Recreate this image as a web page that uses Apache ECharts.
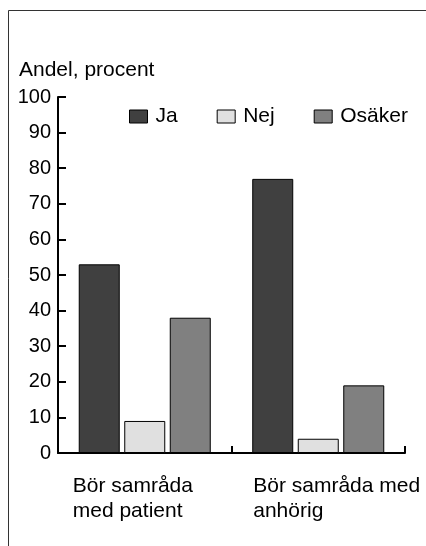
<!DOCTYPE html>
<html>
<head>
<meta charset="UTF-8">
<title></title>
<script src="https://cdn.jsdelivr.net/npm/echarts@6/dist/echarts.min.js"></script>
<style>
  html, body { margin: 0; padding: 0; background: #fff; }
  #main { width: 426px; height: 546px; }
</style>
</head>
<body>
<div id="main"></div>
<script>
  // data
  var categories = ['Bör samråda\nmed patient', 'Bör samråda med\nanhörig'];
  var seriesNames = ['Ja', 'Nej', 'Osäker'];
  var ja = [53, 77];
  var nej = [9, 4];
  var osaker = [38, 19];
  var yTicks = [0, 10, 20, 30, 40, 50, 60, 70, 80, 90, 100];

  var colors = ['#404040', '#e0e0e0', '#808080'];
  var font = 'Liberation Sans, Arial, sans-serif';

  var chart = echarts.init(document.getElementById('main'));

  function bar(name, data, color) {
    return {
      name: name,
      type: 'bar',
      data: data,
      barWidth: 41,
      barGap: '11%',
      itemStyle: { color: color, borderColor: '#000', borderWidth: 1 }
    };
  }

  var option = {
    animation: false,
    backgroundColor: '#fff',
    textStyle: { fontFamily: font, color: '#000' },
    title: {
      text: 'Andel, procent',
      left: 14,
      top: 55,
      textStyle: { fontFamily: font, fontSize: 21, fontWeight: 'normal', color: '#000' }
    },
    graphic: [{
      type: 'rect',
      shape: { x: 8.5, y: 10.5, width: 600, height: 700 },
      style: { fill: 'none', stroke: '#333', lineWidth: 1 },
      silent: true
    }],
    legend: {
      data: seriesNames,
      left: 129,
      top: 106,
      padding: 0,
      itemWidth: 18,
      itemHeight: 13,
      itemGap: 39,
      icon: 'rect',
      itemStyle: { borderColor: '#000', borderWidth: 1 },
      textStyle: { fontFamily: font, fontSize: 21, color: '#000', padding: [0, 0, 0, 3] }
    },
    grid: { left: 58, right: 21, top: 97, bottom: 93, outerBoundsMode: 'none', containLabel: false },
    xAxis: {
      type: 'category',
      data: categories,
      axisLine: { lineStyle: { color: '#000', width: 2 } },
      axisTick: { show: true, interval: 0, alignWithLabel: false, inside: true, length: 7, lineStyle: { color: '#000', width: 2 } },
      axisLabel: {
        margin: 21,
        interval: 0,
        hideOverlap: false,
        formatter: function (value, index) {
          var lines = value.split('\n');
          if (index === 0) {
            return lines.map(function (l) { return '{p1|' + l + '}'; }).join('\n');
          }
          return lines.map(function (l) { return '{sp| }{p2|' + l + '}'; }).join('\n');
        },
        rich: {
          p1: { width: 144, align: 'left', fontSize: 21, lineHeight: 25, fontFamily: font, color: '#000' },
          sp: { width: 45, align: 'left', fontSize: 21, lineHeight: 25, fontFamily: font },
          p2: { width: 175, align: 'left', fontSize: 21, lineHeight: 25, fontFamily: font, color: '#000' }
        }
      }
    },
    yAxis: {
      type: 'value',
      min: yTicks[0],
      max: yTicks[yTicks.length - 1],
      interval: yTicks[1] - yTicks[0],
      splitLine: { show: false },
      axisLine: { show: true, lineStyle: { color: '#000', width: 2 } },
      axisTick: { show: true, inside: true, length: 8, lineStyle: { color: '#000', width: 2 } },
      axisLabel: { fontSize: 20, color: '#000', margin: 7, fontFamily: font }
    },
    series: [
      bar(seriesNames[0], ja, colors[0]),
      bar(seriesNames[1], nej, colors[1]),
      bar(seriesNames[2], osaker, colors[2])
    ]
  };

  chart.setOption(option);
</script>
</body>
</html>
